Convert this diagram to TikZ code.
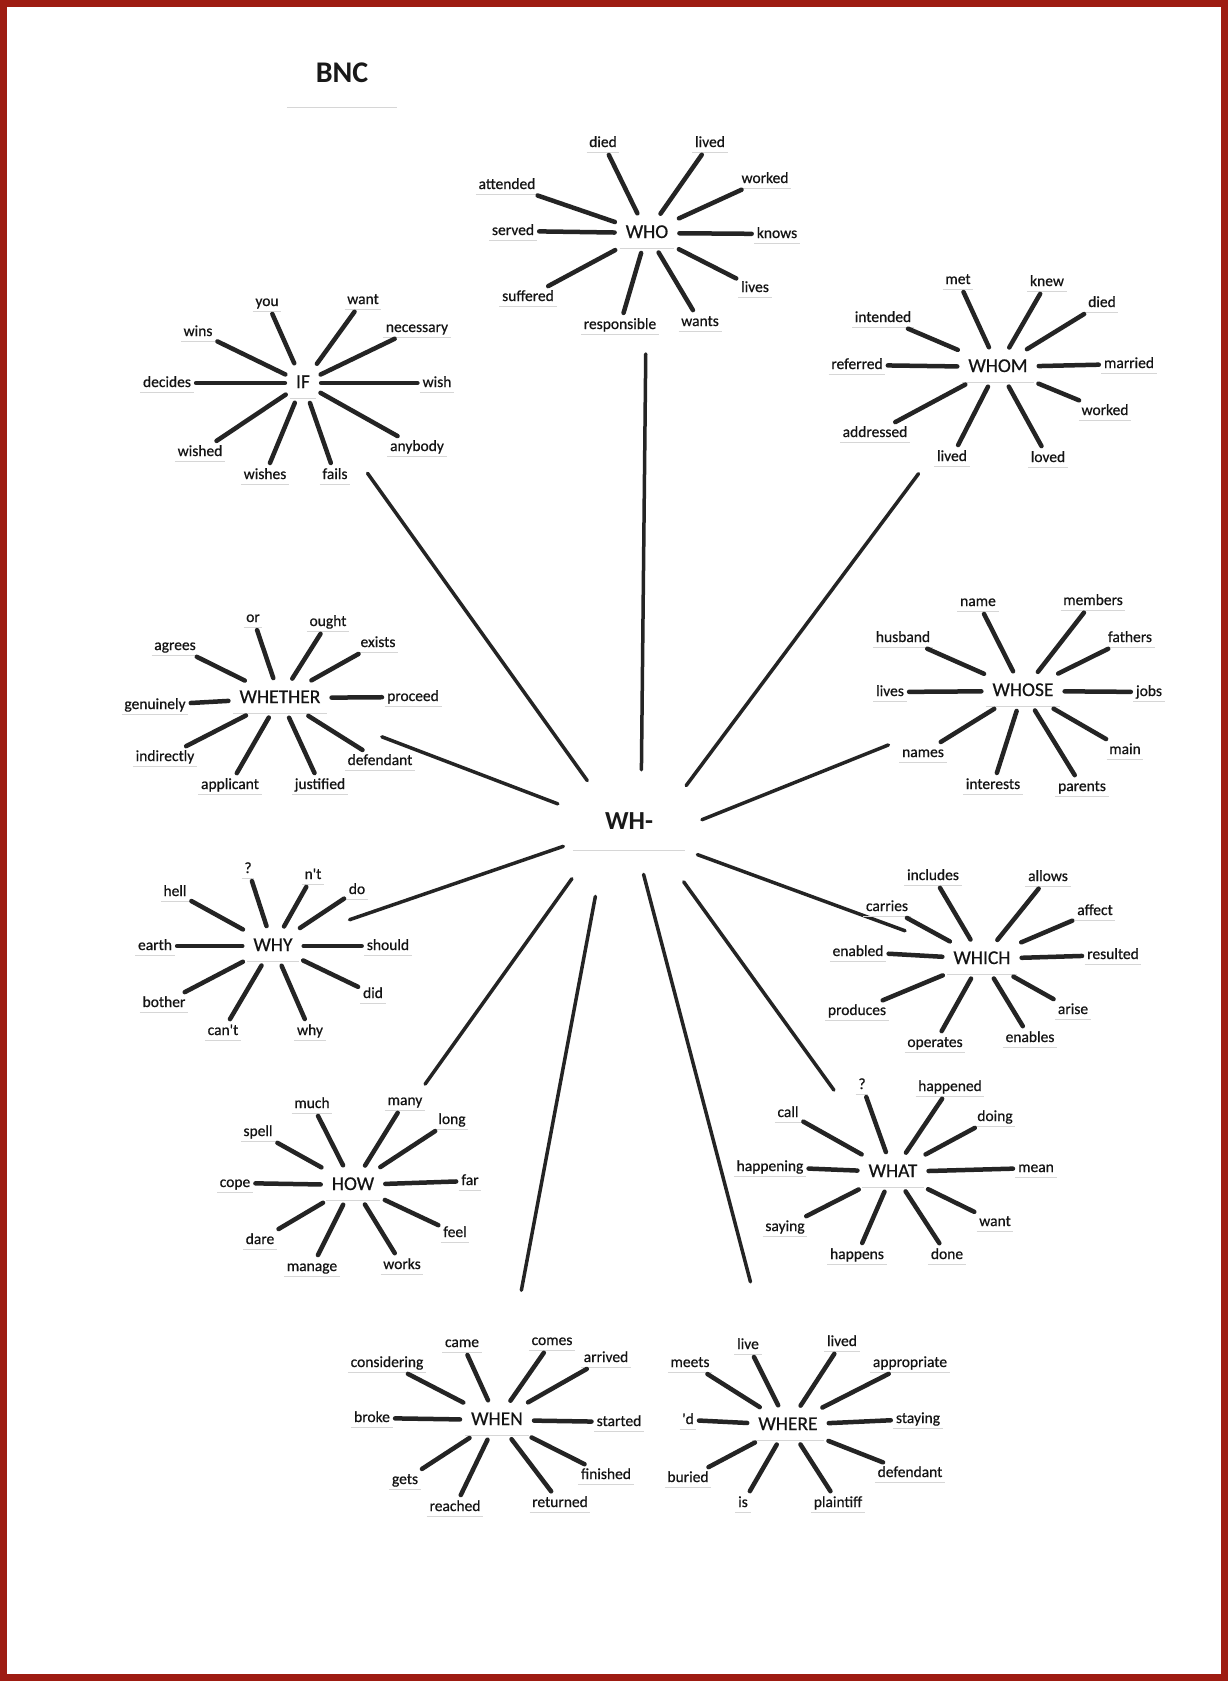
\documentclass[tikz,border=0pt]{standalone}
\usepackage{fontspec}
\setmainfont{Carlito}
\newfontfamily\scanfont{Carlito}[FakeBold=0.6]
\definecolor{framered}{RGB}{158,28,18}
\definecolor{ink}{RGB}{36,36,36}
\tikzset{
  under/.style={append after command={(\tikzlastnode.south west) edge[draw=black!16, line width=0.8pt] (\tikzlastnode.south east)}},
  sat/.style={font=\scanfont\fontsize{15.5}{18}\selectfont, text=black!92, inner xsep=2.5pt, inner ysep=2pt, text height=11.5pt, text depth=3.5pt, under},
  hub/.style={font=\scanfont\fontsize{19.5}{22}\selectfont, text=black!92, inner xsep=6pt, inner ysep=6pt, text height=14pt, text depth=4pt, under},
  spoke/.style={draw=ink, line width=4.5pt, line cap=round, shorten <=2.5pt, shorten >=5pt},
  link/.style={draw=ink, line width=3.5pt, line cap=round},
}
\begin{document}
\begin{tikzpicture}[x=1pt,y=-1pt]
\fill[white] (0,0) rectangle (1228,1681);
\useasboundingbox (0,0) rectangle (1228,1681);
\draw[framered, line width=7pt] (3.5,3.5) rectangle (1224.5,1677.5);

% title
\node[font=\bfseries\fontsize{30}{34}\selectfont, text=black!90, minimum width=110pt, minimum height=68pt, inner sep=0pt, under] (bnc) at (342,73) {BNC};

% central node
\node[font=\bfseries\fontsize{26}{30}\selectfont, text=black!90, minimum width=112pt, minimum height=57pt, inner sep=0pt, under] (wh) at (629,821.5) {WH-};

% hubs
\node[hub] (who) at (647,233) {WHO};
\node[hub] (if) at (303,383) {IF};
\node[hub] (whom) at (998,367) {WHOM};
\node[hub] (whether) at (280,698) {WHETHER};
\node[hub] (whose) at (1023,691) {WHOSE};
\node[hub] (why) at (273,946) {WHY};
\node[hub] (which) at (982,959) {WHICH};
\node[hub] (how) at (353,1185) {HOW};
\node[hub] (what) at (893,1172) {WHAT};
\node[hub] (when) at (497,1420) {WHEN};
\node[hub] (where) at (788,1425) {WHERE};

% links from WH-
\draw[link, shorten <=23pt, shorten >=121pt] (wh.67) -- (who.center);
\draw[link, shorten <=15pt, shorten >=111pt] (wh.139) -- (if.center);
\draw[link, shorten <=9pt, shorten >=133pt] (wh.29) -- (whom.center);
\draw[link, shorten <=16pt, shorten >=109pt] (wh.168) -- (whether.center);
\draw[link, shorten <=18pt, shorten >=145pt] (wh.-5) -- (whose.center);
\draw[link, shorten <=10pt, shorten >=81pt] (wh.201) -- (why.center);
\draw[link, shorten <=13pt, shorten >=82pt] (wh.-27) -- (which.center);
\draw[link, shorten <=39pt, shorten >=101pt] (wh.-42) -- (what.center);
\draw[link, shorten <=35pt, shorten >=124pt] (wh.218) -- (how.center);
\draw[link, shorten <=47pt, shorten >=132pt] (wh.229) -- (when.center);
\draw[link, shorten <=25pt, shorten >=148pt] (wh.-74) -- (where.center);

% WHO
\foreach \n/\x/\y/\t in {who1/603/143/died, who2/710/143/lived, who3/765/179/worked, who4/507/185/attended, who5/513/231/served, who6/777/234/knows, who7/755/288/lives, who8/528/297/suffered, who9/620/325/responsible, who10/700/322/wants}{
  \node[sat] (\n) at (\x,\y) {\t};
  \draw[spoke] (\n) -- (who);
}
% IF
\foreach \n/\x/\y/\t in {if1/267/302/you, if2/363/300/want, if3/417/328/necessary, if4/198/332/wins, if5/167/383/decides, if6/437/383/wish, if7/417/447/anybody, if8/200/452/wished, if9/265/475/wishes, if10/335/475/fails}{
  \node[sat] (\n) at (\x,\y) {\t};
  \draw[spoke] (\n) -- (if);
}
% WHOM
\foreach \n/\x/\y/\t in {whom1/958/280/met, whom2/1047/282/knew, whom3/1102/303/died, whom4/883/318/intended, whom5/857/365/referred, whom6/1129/364/married, whom7/1105/411/worked, whom8/875/433/addressed, whom9/952/457/lived, whom10/1048/458/loved}{
  \node[sat] (\n) at (\x,\y) {\t};
  \draw[spoke] (\n) -- (whom);
}
% WHETHER
\foreach \n/\x/\y/\t in {whe1/253/618/or, whe2/328/622/ought, whe3/378/643/exists, whe4/175/646/agrees, whe5/155/705/genuinely, whe6/413/697/proceed, whe7/380/761/defendant, whe8/165/757/indirectly, whe9/230/785/applicant, whe10/320/785/justified}{
  \node[sat] (\n) at (\x,\y) {\t};
  \draw[spoke] (\n) -- (whether);
}
% WHOSE
\foreach \n/\x/\y/\t in {whs1/978/602/name, whs2/1093/601/members, whs3/903/638/husband, whs4/1130/638/fathers, whs5/890/692/lives, whs6/1149/692/jobs, whs7/1125/750/main, whs8/923/753/names, whs9/993/785/interests, whs10/1082/787/parents}{
  \node[sat] (\n) at (\x,\y) {\t};
  \draw[spoke] (\n) -- (whose);
}
% WHY
\foreach \n/\x/\y/\t in {why1/248/869/?, why2/313/875/n't, why3/357/890/do, why4/175/892/hell, why5/155/946/earth, why6/388/946/should, why7/164/1003/bother, why8/373/994/did, why9/223/1031/can't, why10/310/1031/why}{
  \node[sat] (\n) at (\x,\y) {\t};
  \draw[spoke] (\n) -- (why);
}
% WHICH
\foreach \n/\x/\y/\t in {whi1/933/876/includes, whi2/1048/877/allows, whi3/887/907/carries, whi4/1095/911/affect, whi5/858/952/enabled, whi6/1113/955/resulted, whi7/857/1011/produces, whi8/1073/1010/arise, whi9/935/1043/operates, whi10/1030/1038/enables}{
  \node[sat] (\n) at (\x,\y) {\t};
  \draw[spoke] (\n) -- (which);
}
% HOW
\foreach \n/\x/\y/\t in {how1/312/1104/much, how2/405/1101/many, how3/258/1132/spell, how4/452/1120/long, how5/235/1183/cope, how6/470/1181/far, how7/260/1240/dare, how8/455/1233/feel, how9/312/1267/manage, how10/402/1265/works}{
  \node[sat] (\n) at (\x,\y) {\t};
  \draw[spoke] (\n) -- (how);
}
% WHAT
\foreach \n/\x/\y/\t in {wha1/862/1085/?, wha2/950/1087/happened, wha3/788/1113/call, wha4/995/1117/doing, wha5/770/1167/happening, wha6/1036/1168/mean, wha7/785/1227/saying, wha8/995/1222/want, wha9/857/1255/happens, wha10/947/1255/done}{
  \node[sat] (\n) at (\x,\y) {\t};
  \draw[spoke] (\n) -- (what);
}
% WHEN
\foreach \n/\x/\y/\t in {whn1/462/1343/came, whn2/552/1341/comes, whn3/387/1363/considering, whn4/606/1358/arrived, whn5/372/1418/broke, whn6/619/1422/started, whn7/405/1480/gets, whn8/606/1475/finished, whn9/455/1507/reached, whn10/560/1503/returned}{
  \node[sat] (\n) at (\x,\y) {\t};
  \draw[spoke] (\n) -- (when);
}
% WHERE
\foreach \n/\x/\y/\t in {whr1/748/1345/live, whr2/842/1342/lived, whr3/690/1363/meets, whr4/910/1363/appropriate, whr5/688/1420/'d, whr6/918/1419/staying, whr7/688/1478/buried, whr8/910/1473/defendant, whr9/743/1503/is, whr10/838/1503/plaintiff}{
  \node[sat] (\n) at (\x,\y) {\t};
  \draw[spoke] (\n) -- (where);
}
\end{tikzpicture}
\end{document}
